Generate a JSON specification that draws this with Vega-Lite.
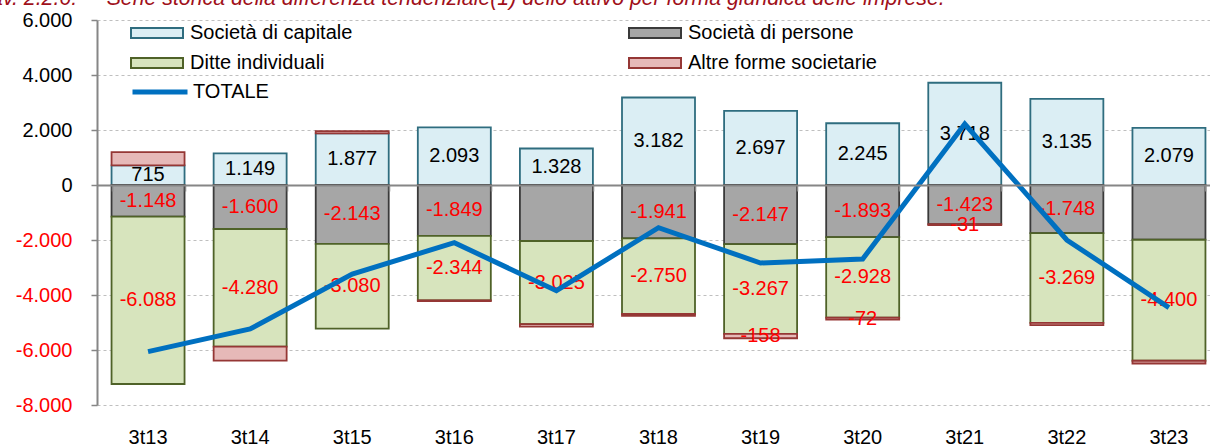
{
  "$schema": "https://vega.github.io/schema/vega-lite/v6.json",
  "width": 1123,
  "height": 385,
  "autosize": {"type": "none"},
  "padding": {"left": 97, "top": 20, "right": 0, "bottom": 43},
  "background": "white",
  "title": {
    "text": "Tav. 2.2.6:\u00a0\u00a0\u00a0\u00a0\u00a0Serie storica della differenza tendenziale(1) dello attivo per forma giuridica delle imprese.",
    "anchor": "start",
    "frame": "group",
    "dx": -117,
    "offset": -16,
    "baseline": "alphabetic",
    "font": "Liberation Sans",
    "fontSize": 21.3,
    "fontStyle": "italic",
    "fontWeight": "normal",
    "color": "#A0101A"
  },
  "datasets": {
    "barre": [
      {"periodo": "3t13", "tipo": "Società di capitale", "valore": 715, "ordine": 1, "etichetta": true},
      {"periodo": "3t13", "tipo": "Società di persone", "valore": -1148, "ordine": 2, "etichetta": true},
      {"periodo": "3t13", "tipo": "Ditte individuali", "valore": -6088, "ordine": 3, "etichetta": true},
      {"periodo": "3t13", "tipo": "Altre forme societarie", "valore": 480, "ordine": 4, "etichetta": false},
      {"periodo": "3t14", "tipo": "Società di capitale", "valore": 1149, "ordine": 1, "etichetta": true},
      {"periodo": "3t14", "tipo": "Società di persone", "valore": -1600, "ordine": 2, "etichetta": true},
      {"periodo": "3t14", "tipo": "Ditte individuali", "valore": -4280, "ordine": 3, "etichetta": true},
      {"periodo": "3t14", "tipo": "Altre forme societarie", "valore": -505, "ordine": 4, "etichetta": false},
      {"periodo": "3t15", "tipo": "Società di capitale", "valore": 1877, "ordine": 1, "etichetta": true},
      {"periodo": "3t15", "tipo": "Società di persone", "valore": -2143, "ordine": 2, "etichetta": true},
      {"periodo": "3t15", "tipo": "Ditte individuali", "valore": -3080, "ordine": 3, "etichetta": true},
      {"periodo": "3t15", "tipo": "Altre forme societarie", "valore": 80, "ordine": 4, "etichetta": false},
      {"periodo": "3t16", "tipo": "Società di capitale", "valore": 2093, "ordine": 1, "etichetta": true},
      {"periodo": "3t16", "tipo": "Società di persone", "valore": -1849, "ordine": 2, "etichetta": true},
      {"periodo": "3t16", "tipo": "Ditte individuali", "valore": -2344, "ordine": 3, "etichetta": true},
      {"periodo": "3t16", "tipo": "Altre forme societarie", "valore": -30, "ordine": 4, "etichetta": false},
      {"periodo": "3t17", "tipo": "Società di capitale", "valore": 1328, "ordine": 1, "etichetta": true},
      {"periodo": "3t17", "tipo": "Società di persone", "valore": -2036, "ordine": 2, "etichetta": false},
      {"periodo": "3t17", "tipo": "Ditte individuali", "valore": -3025, "ordine": 3, "etichetta": true},
      {"periodo": "3t17", "tipo": "Altre forme societarie", "valore": -90, "ordine": 4, "etichetta": false},
      {"periodo": "3t18", "tipo": "Società di capitale", "valore": 3182, "ordine": 1, "etichetta": true},
      {"periodo": "3t18", "tipo": "Società di persone", "valore": -1941, "ordine": 2, "etichetta": true},
      {"periodo": "3t18", "tipo": "Ditte individuali", "valore": -2750, "ordine": 3, "etichetta": true},
      {"periodo": "3t18", "tipo": "Altre forme societarie", "valore": -70, "ordine": 4, "etichetta": false},
      {"periodo": "3t19", "tipo": "Società di capitale", "valore": 2697, "ordine": 1, "etichetta": true},
      {"periodo": "3t19", "tipo": "Società di persone", "valore": -2147, "ordine": 2, "etichetta": true},
      {"periodo": "3t19", "tipo": "Ditte individuali", "valore": -3267, "ordine": 3, "etichetta": true},
      {"periodo": "3t19", "tipo": "Altre forme societarie", "valore": -158, "ordine": 4, "etichetta": true},
      {"periodo": "3t20", "tipo": "Società di capitale", "valore": 2245, "ordine": 1, "etichetta": true},
      {"periodo": "3t20", "tipo": "Società di persone", "valore": -1893, "ordine": 2, "etichetta": true},
      {"periodo": "3t20", "tipo": "Ditte individuali", "valore": -2928, "ordine": 3, "etichetta": true},
      {"periodo": "3t20", "tipo": "Altre forme societarie", "valore": -72, "ordine": 4, "etichetta": true},
      {"periodo": "3t21", "tipo": "Società di capitale", "valore": 3718, "ordine": 1, "etichetta": true},
      {"periodo": "3t21", "tipo": "Società di persone", "valore": -1423, "ordine": 2, "etichetta": true},
      {"periodo": "3t21", "tipo": "Altre forme societarie", "valore": -31, "ordine": 4, "etichetta": true},
      {"periodo": "3t22", "tipo": "Società di capitale", "valore": 3135, "ordine": 1, "etichetta": true},
      {"periodo": "3t22", "tipo": "Società di persone", "valore": -1748, "ordine": 2, "etichetta": true},
      {"periodo": "3t22", "tipo": "Ditte individuali", "valore": -3269, "ordine": 3, "etichetta": true},
      {"periodo": "3t22", "tipo": "Altre forme societarie", "valore": -80, "ordine": 4, "etichetta": false},
      {"periodo": "3t23", "tipo": "Società di capitale", "valore": 2079, "ordine": 1, "etichetta": true},
      {"periodo": "3t23", "tipo": "Società di persone", "valore": -1990, "ordine": 2, "etichetta": false},
      {"periodo": "3t23", "tipo": "Ditte individuali", "valore": -4400, "ordine": 3, "etichetta": true},
      {"periodo": "3t23", "tipo": "Altre forme societarie", "valore": -100, "ordine": 4, "etichetta": false}
    ],
    "totale": [
      {"periodo": "3t13", "totale": -6060},
      {"periodo": "3t14", "totale": -5236},
      {"periodo": "3t15", "totale": -3236},
      {"periodo": "3t16", "totale": -2098},
      {"periodo": "3t17", "totale": -3843},
      {"periodo": "3t18", "totale": -1552},
      {"periodo": "3t19", "totale": -2836},
      {"periodo": "3t20", "totale": -2690},
      {"periodo": "3t21", "totale": 2218},
      {"periodo": "3t22", "totale": -2000},
      {"periodo": "3t23", "totale": -4460}
    ]
  },
  "layer": [
    {
      "data": {"name": "barre"},
      "transform": [
        {"stack": "valore", "groupby": ["periodo"], "sort": [{"field": "ordine", "order": "ascending"}], "as": ["v0", "v1"], "offset": "zero"},
        {"calculate": "(datum.v0 + datum.v1) / 2", "as": "centro"}
      ],
      "layer": [
        {
          "mark": {"type": "bar", "strokeWidth": 1.8},
          "encoding": {
            "x": {
              "field": "periodo", "type": "nominal", "sort": null,
              "scale": {"paddingInner": 0.285, "paddingOuter": 0.1425},
              "axis": {"orient": "bottom", "title": null, "labelAngle": 0, "domain": false, "ticks": false, "tickSize": 0, "labelPadding": 22, "grid": false}
            },
            "y": {
              "field": "v0", "type": "quantitative",
              "scale": {"domain": [-8000, 6000], "nice": false, "zero": false},
              "axis": {
                "title": null,
                "values": [-8000, -6000, -4000, -2000, 0, 2000, 4000, 6000],
                "format": ",.0f",
                "grid": true, "gridDash": [3, 3], "gridColor": "#BFBFBF", "gridWidth": 1,
                "domainColor": "#868686", "domainWidth": 2,
                "tickColor": "#868686", "tickSize": 6, "tickWidth": 1.5,
                "labelPadding": 19,
                "labelColor": {"condition": {"test": "datum.value < 0", "value": "#FF0000"}, "value": "#000000"}
              }
            },
            "y2": {"field": "v1"},
            "fill": {
              "field": "tipo", "type": "nominal",
              "scale": {
                "domain": ["Società di capitale", "Ditte individuali", "Società di persone", "Altre forme societarie"],
                "range": ["#DBEEF4", "#D7E4BD", "#A6A6A6", "#E6B9B8"]
              },
              "legend": {
                "orient": "none", "legendX": 49, "legendY": 2, "columns": 2, "columnPadding": 272, "rowPadding": 9,
                "symbolType": "M-2.6,-0.5L2.6,-0.5L2.6,0.5L-2.6,0.5Z", "symbolSize": 400, "symbolStrokeWidth": 2,
                "labelFontSize": 20, "labelFont": "Liberation Sans", "labelColor": "#000000", "labelOffset": 22, "labelLimit": 400,
                "title": null, "padding": 0
              }
            },
            "stroke": {
              "field": "tipo", "type": "nominal",
              "scale": {
                "domain": ["Società di capitale", "Ditte individuali", "Società di persone", "Altre forme societarie"],
                "range": ["#2F6D7F", "#4F6228", "#3A3A3A", "#953735"]
              },
              "legend": {
                "orient": "none", "legendX": 49, "legendY": 2, "columns": 2, "columnPadding": 272, "rowPadding": 9,
                "symbolType": "M-2.6,-0.5L2.6,-0.5L2.6,0.5L-2.6,0.5Z", "symbolSize": 400, "symbolStrokeWidth": 2,
                "labelFontSize": 20, "labelFont": "Liberation Sans", "labelColor": "#000000", "labelOffset": 22, "labelLimit": 400,
                "title": null, "padding": 0
              }
            },
            "order": {"field": "ordine"}
          }
        },
        {
          "transform": [{"filter": "datum.etichetta"}],
          "mark": {"type": "text", "font": "Liberation Sans", "fontSize": 20, "baseline": "middle", "align": "center"},
          "encoding": {
            "x": {"field": "periodo", "type": "nominal", "sort": null},
            "y": {"field": "centro", "type": "quantitative"},
            "text": {"field": "valore", "type": "quantitative", "format": ",.0f"},
            "color": {"condition": {"test": "datum.tipo === 'Società di capitale'", "value": "#000000"}, "value": "#FF0000"}
          }
        }
      ]
    },
    {
      "data": {"name": "totale"},
      "mark": {"type": "line", "strokeWidth": 5, "strokeJoin": "miter"},
      "encoding": {
        "x": {
          "field": "periodo", "type": "nominal", "sort": null,
          "axis": {"orient": "top", "offset": -165, "labels": false, "title": null, "domain": true, "domainColor": "#868686", "domainWidth": 2, "ticks": true, "tickBand": "extent", "tickSize": -6, "tickColor": "#868686", "tickWidth": 1.5, "grid": false, "zindex": 1}
        },
        "y": {"field": "totale", "type": "quantitative"},
        "color": {
          "datum": "TOTALE",
          "scale": {"range": ["#0070C0"]},
          "legend": {
            "orient": "none", "legendX": 33, "legendY": 42,
            "symbolType": "stroke", "symbolSize": 3025, "symbolStrokeWidth": 5,
            "labelFontSize": 20, "labelFont": "Liberation Sans", "labelColor": "#000000", "labelOffset": 3,
            "title": null, "padding": 0
          }
        }
      }
    }
  ],
  "resolve": {"axis": {"x": "independent"}},
  "config": {
    "locale": {"number": {"decimal": ",", "thousands": ".", "grouping": [3], "currency": ["", " €"], "minus": "-"}},
    "view": {"stroke": null},
    "font": "Liberation Sans",
    "axis": {"labelFont": "Liberation Sans", "labelFontSize": 20, "labelColor": "#000000"}
  }
}
